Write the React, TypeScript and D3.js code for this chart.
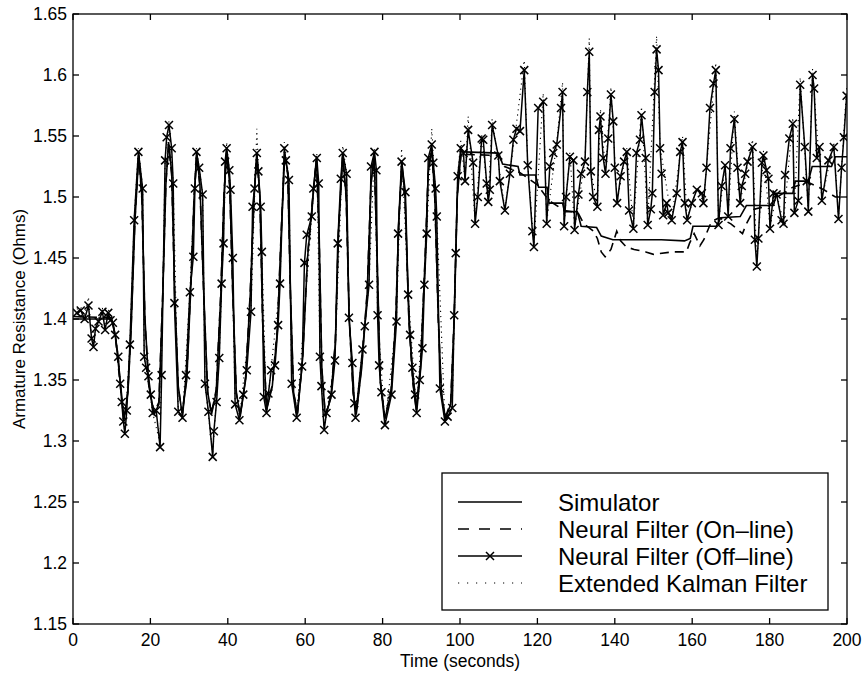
import React from "react";
import * as d3 from "d3";

// ---- Data ----
const xTicks = [0, 20, 40, 60, 80, 100, 120, 140, 160, 180, 200];
const yTicks = [1.15, 1.2, 1.25, 1.3, 1.35, 1.4, 1.45, 1.5, 1.55, 1.6, 1.65];

const legendLabels = [
  "Simulator",
  "Neural Filter (On\u2013line)",
  "Neural Filter (Off\u2013line)",
  "Extended Kalman Filter",
];

// Neural filter (off-line), [time, resistance]
const offline: [number, number][] = [
  [1.0,1.405],[2.0,1.407],[3.0,1.400],[4.0,1.411],[4.8,1.384],[5.3,1.377],[5.8,1.392],[6.6,1.398],[7.6,1.406],[8.3,1.391],
  [9.1,1.405],[9.7,1.399],[10.3,1.397],[10.9,1.387],[11.7,1.369],[12.2,1.347],[12.6,1.332],[13.0,1.316],[13.4,1.306],[13.9,1.325],
  [14.7,1.379],[15.8,1.481],[16.9,1.537],[18.0,1.507],[18.4,1.369],[18.9,1.360],[19.5,1.353],[20.1,1.338],[20.6,1.323],[21.5,1.325],
  [22.5,1.295],[22.9,1.354],[23.8,1.530],[24.2,1.549],[24.8,1.559],[25.5,1.540],[25.9,1.511],[26.2,1.413],[27.2,1.324],[28.3,1.319],
  [29.2,1.354],[30.2,1.422],[31.1,1.451],[31.5,1.507],[31.9,1.537],[32.6,1.524],[33.5,1.502],[34.1,1.347],[35.0,1.324],[36.1,1.287],
  [36.4,1.308],[37.1,1.332],[37.8,1.368],[38.4,1.429],[38.9,1.462],[39.3,1.529],[39.7,1.540],[40.4,1.522],[40.7,1.506],[41.3,1.450],
  [41.9,1.330],[43.0,1.317],[44.0,1.338],[44.9,1.358],[46.0,1.406],[46.4,1.492],[46.9,1.507],[47.5,1.536],[47.9,1.521],[48.5,1.492],
  [48.8,1.455],[49.3,1.336],[50.0,1.323],[50.5,1.339],[51.2,1.358],[52.2,1.362],[53.0,1.395],[53.5,1.429],[54.6,1.540],[55.0,1.530],
  [55.8,1.514],[56.5,1.347],[57.8,1.319],[59.2,1.361],[59.8,1.446],[60.4,1.469],[61.7,1.484],[62.1,1.507],[63.0,1.532],[63.5,1.511],
  [63.8,1.369],[64.2,1.345],[64.9,1.309],[65.5,1.323],[66.8,1.338],[67.7,1.366],[68.4,1.462],[69.2,1.515],[69.7,1.536],[70.7,1.519],
  [71.3,1.401],[72.2,1.364],[72.7,1.331],[73.0,1.319],[74.8,1.375],[75.4,1.394],[76.5,1.428],[77.0,1.525],[77.9,1.537],[78.4,1.522],
  [78.7,1.403],[79.1,1.362],[79.7,1.340],[80.6,1.313],[82.3,1.338],[83.6,1.398],[84.0,1.470],[84.9,1.529],[85.9,1.504],[86.6,1.420],
  [87.1,1.387],[87.7,1.360],[88.4,1.338],[88.8,1.323],[89.6,1.350],[90.3,1.376],[90.8,1.428],[91.4,1.470],[91.8,1.532],[92.7,1.543],
  [93.1,1.528],[93.7,1.507],[94.0,1.484],[94.8,1.343],[96.1,1.316],[96.8,1.320],[98.0,1.327],[98.5,1.403],[98.9,1.454],[99.4,1.517],
  [100.2,1.540],[100.9,1.536],[101.3,1.513],[102.1,1.555],[103.4,1.528],[103.9,1.478],[104.6,1.500],[105.6,1.548],[106.0,1.547],[106.9,1.511],
  [107.3,1.496],[107.7,1.506],[108.3,1.559],[109.9,1.534],[110.3,1.513],[111.6,1.489],[112.9,1.519],[113.8,1.547],[114.6,1.556],[115.5,1.554],
  [116.6,1.604],[117.5,1.526],[118.7,1.472],[119.1,1.459],[120.2,1.573],[121.5,1.578],[122.4,1.478],[123.2,1.525],[124.1,1.536],[125.0,1.543],
  [126.1,1.573],[126.5,1.586],[126.9,1.476],[127.4,1.500],[128.4,1.533],[129.3,1.530],[129.6,1.473],[130.6,1.502],[131.3,1.519],[132.3,1.529],
  [132.9,1.586],[133.4,1.619],[133.8,1.521],[134.4,1.500],[135.5,1.492],[135.9,1.555],[136.3,1.566],[137.0,1.532],[137.6,1.519],[138.3,1.548],
  [139.0,1.584],[139.6,1.562],[140.0,1.524],[140.6,1.495],[141.5,1.517],[142.4,1.529],[143.1,1.537],[143.7,1.489],[144.8,1.474],[145.6,1.536],
  [146.5,1.547],[146.9,1.567],[148.0,1.532],[148.5,1.477],[149.3,1.490],[149.7,1.503],[150.3,1.586],[150.8,1.621],[151.3,1.604],[151.7,1.540],
  [152.1,1.519],[152.5,1.485],[153.4,1.495],[153.8,1.487],[154.7,1.481],[156.0,1.503],[156.9,1.537],[157.5,1.545],[158.1,1.495],[158.7,1.481],
  [159.9,1.495],[161.2,1.506],[162.5,1.503],[162.9,1.495],[163.7,1.524],[164.6,1.573],[165.5,1.593],[166.1,1.604],[166.8,1.477],[167.6,1.509],
  [168.5,1.526],[169.3,1.484],[169.9,1.540],[170.9,1.564],[171.7,1.524],[172.4,1.495],[172.8,1.509],[173.7,1.519],[174.3,1.529],[175.6,1.541],
  [176.2,1.465],[176.7,1.443],[177.1,1.466],[178.0,1.528],[178.4,1.534],[179.2,1.522],[179.7,1.515],[180.1,1.474],[181.0,1.503],[181.8,1.502],
  [183.1,1.481],[183.6,1.478],[184.0,1.518],[185.1,1.548],[186.0,1.560],[186.4,1.487],[187.4,1.497],[187.9,1.592],[189.1,1.541],[189.6,1.513],
  [190.0,1.488],[191.1,1.600],[191.5,1.589],[192.2,1.532],[192.9,1.541],[193.5,1.497],[195.2,1.530],[196.6,1.541],[197.8,1.482],[198.6,1.524],
  [199.2,1.549],[199.9,1.583],
];

// Simulator (solid)
const simulator: [number, number][] = [
  [0,1.400],[10.0,1.400],[11.0,1.385],[12.0,1.355],[13.2,1.318],[14.2,1.340],[15.0,1.390],[16.0,1.480],[17.0,1.535],[17.8,1.500],
  [18.6,1.400],[19.6,1.345],[21.0,1.322],[22.2,1.330],[23.2,1.420],[24.0,1.510],[24.7,1.545],[25.5,1.520],[26.3,1.420],[27.2,1.345],
  [28.2,1.322],[29.4,1.350],[30.5,1.430],[31.3,1.500],[32.0,1.535],[32.8,1.510],[33.8,1.420],[34.8,1.340],[35.8,1.322],[37.0,1.340],
  [38.2,1.420],[39.0,1.500],[39.7,1.538],[40.5,1.510],[41.3,1.420],[42.2,1.340],[43.2,1.320],[44.6,1.350],[45.8,1.420],[46.8,1.500],
  [47.5,1.535],[48.3,1.500],[49.0,1.400],[50.0,1.325],[51.5,1.345],[52.8,1.390],[53.8,1.470],[54.7,1.535],[55.5,1.520],[56.2,1.420],
  [57.0,1.340],[58.0,1.322],[59.4,1.370],[60.6,1.450],[62.0,1.500],[62.9,1.532],[63.6,1.470],[64.3,1.360],[65.2,1.320],[66.6,1.335],
  [67.8,1.380],[68.6,1.470],[69.7,1.535],[70.6,1.500],[71.4,1.400],[72.4,1.340],[73.2,1.322],[74.6,1.360],[76.0,1.420],[77.0,1.510],
  [77.8,1.535],[78.6,1.450],[79.4,1.350],[80.6,1.318],[82.2,1.340],[83.4,1.400],[84.2,1.480],[85.0,1.528],[85.8,1.500],[86.8,1.400],
  [87.8,1.350],[88.7,1.325],[89.8,1.360],[91.0,1.450],[91.8,1.520],[92.7,1.540],[93.5,1.500],[94.4,1.400],[95.2,1.340],[96.2,1.318],
  [97.6,1.330],[98.5,1.400],[99.3,1.500],[100.3,1.538],[101,1.537],[110,1.536],[111,1.527],[115,1.525],[115.5,1.518],[119.5,1.518],
  [120.3,1.508],[122.5,1.508],[123,1.495],[126.5,1.495],[127,1.488],[130.3,1.488],[131.3,1.476],[135.3,1.475],[136.5,1.468],[139.5,1.465],
  [152,1.465],[158,1.464],[159.5,1.466],[160.2,1.476],[166.2,1.476],[167.4,1.483],[172.4,1.484],[174,1.493],[181,1.493],[181.8,1.503],
  [186,1.503],[186.6,1.513],[190,1.513],[191,1.525],[196,1.525],[197,1.533],[200,1.533],
];

// Neural filter (on-line), dashed
const online: [number, number][] = [
  [0,1.402],[10.0,1.401],[11.0,1.384],[12.0,1.352],[13.2,1.316],[14.2,1.342],[15.0,1.392],[16.0,1.482],[17.0,1.534],[17.8,1.498],
  [18.6,1.398],[19.6,1.344],[21.0,1.323],[22.2,1.332],[23.2,1.422],[24.0,1.512],[24.7,1.543],[25.5,1.518],[26.3,1.418],[27.2,1.344],
  [28.2,1.323],[29.4,1.352],[30.5,1.432],[31.3,1.502],[32.0,1.534],[32.8,1.508],[33.8,1.418],[34.8,1.339],[35.8,1.323],[37.0,1.342],
  [38.2,1.422],[39.0,1.502],[39.7,1.536],[40.5,1.508],[41.3,1.418],[42.2,1.339],[43.2,1.321],[44.6,1.352],[45.8,1.422],[46.8,1.502],
  [47.5,1.534],[48.3,1.498],[49.0,1.398],[50.0,1.326],[51.5,1.346],[52.8,1.392],[53.8,1.472],[54.7,1.534],[55.5,1.518],[56.2,1.418],
  [57.0,1.339],[58.0,1.323],[59.4,1.372],[60.6,1.452],[62.0,1.502],[62.9,1.530],[63.6,1.468],[64.3,1.358],[65.2,1.321],[66.6,1.337],
  [67.8,1.382],[68.6,1.472],[69.7,1.534],[70.6,1.498],[71.4,1.398],[72.4,1.339],[73.2,1.323],[74.6,1.362],[76.0,1.422],[77.0,1.512],
  [77.8,1.534],[78.6,1.448],[79.4,1.348],[80.6,1.319],[82.2,1.342],[83.4,1.402],[84.2,1.482],[85.0,1.527],[85.8,1.498],[86.8,1.398],
  [87.8,1.348],[88.7,1.326],[89.8,1.362],[91.0,1.452],[91.8,1.522],[92.7,1.538],[93.5,1.498],[94.4,1.398],[95.2,1.339],[96.2,1.319],
  [97.6,1.332],[98.5,1.402],[99.3,1.502],[100.3,1.536],[101,1.535],[110,1.534],[111.5,1.525],[115.5,1.520],[120,1.510],[123,1.497],
  [127,1.489],[130.5,1.487],[132,1.478],[134.5,1.472],[135.5,1.466],[136.5,1.455],[137.5,1.451],[139,1.457],[140.5,1.472],[141.5,1.464],
  [143,1.459],[145,1.457],[148,1.455],[150,1.453],[155,1.455],[158.5,1.455],[159.3,1.462],[160.5,1.470],[162,1.460],[163,1.465],
  [165,1.480],[167,1.483],[170,1.478],[173,1.470],[174,1.478],[176,1.490],[180,1.493],[182,1.500],[186,1.508],[190,1.512],
  [194,1.506],[197,1.500],[200,1.500],
];

// Extended Kalman filter, dotted (tracks the off-line estimate, overshooting at peaks)
const ekf: [number, number][] = [
  [1.0,1.408],[2.0,1.410],[3.0,1.402],[4.0,1.418],[4.8,1.386],[5.8,1.393],[7.6,1.409],[8.3,1.392],[9.1,1.408],[10.3,1.398],
  [11.7,1.370],[13.0,1.316],[13.4,1.308],[14.7,1.380],[15.8,1.482],[16.9,1.540],[18.0,1.508],[18.4,1.370],[20.6,1.323],[22.5,1.298],
  [23.8,1.532],[24.8,1.562],[25.9,1.512],[27.2,1.324],[28.3,1.320],[30.2,1.423],[31.9,1.540],[33.5,1.503],[34.1,1.347],[36.1,1.290],
  [37.8,1.369],[39.7,1.545],[40.7,1.507],[41.9,1.331],[43.0,1.318],[46.0,1.407],[47.5,1.556],[48.8,1.456],[50.0,1.323],[53.5,1.430],
  [54.6,1.545],[55.8,1.515],[56.5,1.348],[57.8,1.320],[61.7,1.485],[63.0,1.536],[63.8,1.370],[64.9,1.310],[67.7,1.367],[69.7,1.542],
  [70.7,1.520],[71.3,1.402],[73.0,1.320],[76.5,1.429],[77.9,1.540],[78.7,1.404],[80.6,1.314],[83.6,1.399],[84.9,1.540],[86.6,1.421],
  [88.8,1.324],[90.8,1.429],[92.7,1.556],[94.0,1.485],[96.1,1.317],[98.0,1.328],[99.4,1.518],[100.2,1.546],[101.3,1.514],[102.1,1.566],
  [103.9,1.479],[105.6,1.552],[107.3,1.497],[108.3,1.564],[111.6,1.490],[114.6,1.560],[116.6,1.612],[117.5,1.528],[119.1,1.460],[121.5,1.585],
  [122.4,1.479],[125.0,1.545],[126.5,1.594],[126.9,1.477],[128.4,1.537],[129.6,1.474],[132.3,1.530],[133.4,1.630],[133.8,1.522],[135.5,1.493],
  [136.3,1.572],[137.6,1.520],[139.0,1.590],[140.6,1.496],[143.1,1.540],[144.8,1.475],[146.9,1.574],[148.5,1.478],[150.8,1.632],[151.7,1.541],
  [154.7,1.482],[157.5,1.550],[158.7,1.482],[161.2,1.507],[162.9,1.496],[166.1,1.610],[166.8,1.478],[168.5,1.527],[169.3,1.485],[170.9,1.570],
  [172.4,1.496],[175.6,1.547],[176.7,1.444],[178.4,1.538],[180.1,1.475],[181.8,1.503],[183.6,1.479],[186.0,1.565],[186.4,1.488],[187.9,1.598],
  [190.0,1.489],[191.1,1.605],[193.5,1.498],[196.6,1.545],[197.8,1.483],[199.9,1.590],
];

const W = 863;
const H = 673;
const M = { left: 73, right: 847, top: 14, bottom: 624 };
const FONT = "'Liberation Sans', Arial, Helvetica, sans-serif";

export default function App() {
  const x = d3.scaleLinear().domain([0, 200]).range([M.left, M.right]);
  const y = d3.scaleLinear().domain([1.15, 1.65]).range([M.bottom, M.top]);
  const line = d3
    .line<[number, number]>()
    .x((d) => x(d[0]))
    .y((d) => y(d[1]));

  const tickLen = 6;
  const mk = 4;

  const xMark = (cx: number, cy: number, key: string | number) => (
    <path
      key={key}
      d={`M${cx - mk},${cy - mk}L${cx + mk},${cy + mk}M${cx - mk},${cy + mk}L${cx + mk},${cy - mk}`}
      stroke="#000"
      strokeWidth={1.5}
      fill="none"
    />
  );

  const lgX0 = 458;
  const lgX1 = 522;
  const lgRows = [502, 529, 556, 583];

  return (
    <svg
      width={W}
      height={H}
      style={{ position: "absolute", left: 0, top: 0, background: "#fff" }}
      fontFamily={FONT}
    >
      <defs>
        <clipPath id="plotclip">
          <rect x={M.left} y={M.top} width={M.right - M.left} height={M.bottom - M.top} />
        </clipPath>
      </defs>
      <rect x={0} y={0} width={W} height={H} fill="#fff" />

      {/* data */}
      <g clipPath="url(#plotclip)" fill="none" stroke="#000">
        <path d={line(ekf) || ""} strokeWidth={1.1} strokeDasharray="1.2,4" />
        <path d={line(online) || ""} strokeWidth={1.6} strokeDasharray="9,6" />
        <path d={line(simulator) || ""} strokeWidth={1.6} />
        <path d={line(offline) || ""} strokeWidth={1.5} />
        {offline.map((d, i) => xMark(x(d[0]), y(d[1]), "m" + i))}
      </g>

      {/* frame */}
      <rect
        x={M.left}
        y={M.top}
        width={M.right - M.left}
        height={M.bottom - M.top}
        fill="none"
        stroke="#000"
        strokeWidth={1.3}
      />

      {/* x ticks */}
      {xTicks.map((t) => (
        <g key={"xt" + t}>
          <line x1={x(t)} x2={x(t)} y1={M.bottom} y2={M.bottom - tickLen} stroke="#000" strokeWidth={1.3} />
          <line x1={x(t)} x2={x(t)} y1={M.top} y2={M.top + tickLen} stroke="#000" strokeWidth={1.3} />
          <text x={x(t)} y={646} textAnchor="middle" fontSize={17.5}>
            {t}
          </text>
        </g>
      ))}

      {/* y ticks */}
      {yTicks.map((t) => (
        <g key={"yt" + t}>
          <line x1={M.left} x2={M.left + tickLen} y1={y(t)} y2={y(t)} stroke="#000" strokeWidth={1.3} />
          <line x1={M.right} x2={M.right - tickLen} y1={y(t)} y2={y(t)} stroke="#000" strokeWidth={1.3} />
          <text x={67} y={y(t) + 6} textAnchor="end" fontSize={17.5}>
            {d3.format(".2~f")(t)}
          </text>
        </g>
      ))}

      {/* axis titles */}
      <text x={x(100)} y={667} textAnchor="middle" fontSize={17.5}>
        Time (seconds)
      </text>
      <text
        transform={`translate(25, ${(M.top + M.bottom) / 2}) rotate(-90)`}
        textAnchor="middle"
        fontSize={17}
      >
        Armature Resistance (Ohms)
      </text>

      {/* legend */}
      <g>
        <rect x={442} y={473} width={386} height={137} fill="#fff" stroke="#000" strokeWidth={1.3} />
        <line x1={lgX0} x2={lgX1} y1={lgRows[0]} y2={lgRows[0]} stroke="#000" strokeWidth={1.4} />
        <line x1={lgX0} x2={lgX1} y1={lgRows[1]} y2={lgRows[1]} stroke="#000" strokeWidth={1.4} strokeDasharray="11,10" />
        <line x1={lgX0} x2={lgX1} y1={lgRows[2]} y2={lgRows[2]} stroke="#000" strokeWidth={1.4} />
        {xMark((lgX0 + lgX1) / 2, lgRows[2], "lgm")}
        <line x1={lgX0} x2={lgX1} y1={lgRows[3]} y2={lgRows[3]} stroke="#000" strokeWidth={1.1} strokeDasharray="1.2,7.8" />
        {legendLabels.map((s, i) => (
          <text key={s} x={558} y={lgRows[i] + 9} fontSize={24}>
            {s}
          </text>
        ))}
      </g>
    </svg>
  );
}
